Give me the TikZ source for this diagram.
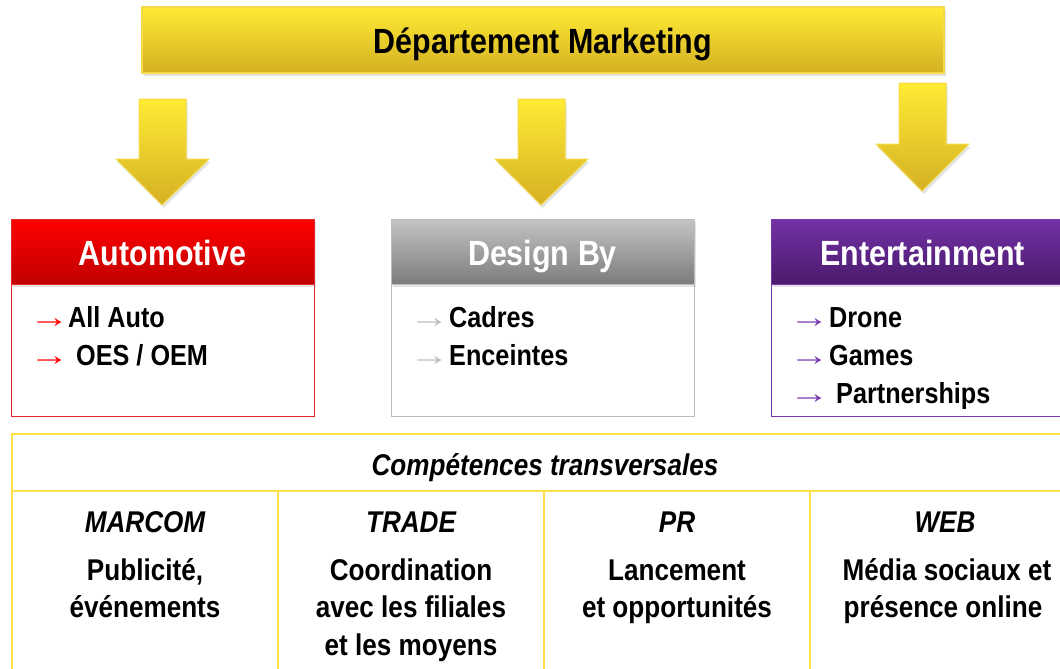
\documentclass[tikz,border=0pt]{standalone}
\usepackage{fontspec}
\setmainfont{Liberation Sans}[FakeStretch=0.87]
\newfontfamily\arrowfont{Liberation Serif}[FakeStretch=1.35]
\usetikzlibrary{shadows}
\definecolor{ytop}{HTML}{FFEB33}
\definecolor{ybot}{HTML}{D4B024}
\definecolor{yedge}{HTML}{F4DA48}
\definecolor{rtop}{HTML}{FF0000}
\definecolor{rbot}{HTML}{C00000}
\definecolor{redge}{HTML}{E8262E}
\definecolor{gtop}{HTML}{C4C4C4}
\definecolor{gbot}{HTML}{7C7C7C}
\definecolor{gedge}{HTML}{BDBDBD}
\definecolor{ptop}{HTML}{7432A6}
\definecolor{pbot}{HTML}{4A1A6C}
\definecolor{pedge}{HTML}{7A3AAE}
\definecolor{tline}{HTML}{FFE04A}
\tikzset{
  shad/.style={drop shadow={opacity=0.22,shadow xshift=1.5pt,shadow yshift=-3pt}},
  topbar/.style={draw=yedge,line width=1.2pt,top color=ytop,bottom color=ybot,shad,
    minimum width=802pt,minimum height=66pt,inner sep=0pt,text height=33pt,text depth=7pt,
    font=\fontsize{35}{40}\selectfont\bfseries},
  yarrow/.style={draw=yedge,line width=1pt,top color=ytop,bottom color=ybot,shad},
  hdr/.style={minimum width=303pt,minimum height=65pt,inner sep=0pt,line width=1pt,
    text height=34pt,text depth=7pt,
    text=white,font=\fontsize{35}{40}\selectfont\bfseries,shad},
  body/.style={minimum width=303pt,minimum height=132pt,inner sep=0pt,fill=white,line width=1pt},
  item/.style={anchor=base west,inner sep=0pt,font=\fontsize{29}{34}\selectfont\bfseries},
  tarrow/.style={anchor=base west,inner sep=0pt,font=\fontsize{30}{34}\arrowfont},
  ttxt/.style={anchor=base,inner sep=0pt,font=\fontsize{30}{36}\selectfont\bfseries},
  tital/.style={anchor=base,inner sep=0pt,font=\fontsize{30}{36}\selectfont\bfseries\itshape},
  tl/.style={draw=tline,line width=1.6pt},
}
\begin{document}
\begin{tikzpicture}[x=1pt,y=-1pt]
\useasboundingbox (0,0) rectangle (1060,669);

% top bar
\node[topbar] (dept) at (543,40) {Département Marketing};

% yellow block arrows
\path[yarrow] (139,99) -- (186,99) -- (186,159) -- (209,159) -- (162,205) -- (116,159) -- (139,159) -- cycle;
\path[yarrow] (518,99) -- (565,99) -- (565,159) -- (588,159) -- (541,205) -- (495,159) -- (518,159) -- cycle;
\path[yarrow] (899,83) -- (946,83) -- (946,144) -- (969,144) -- (922,191) -- (876,144) -- (899,144) -- cycle;

% bodies
\node[body,draw=redge] (autob) at (162.5,350) {};
\node[body,draw=gedge] (designb) at (542.5,350) {};
\node[body,draw=pedge] (entb) at (922.5,350) {};

% headers
\node[hdr,draw=redge,top color=rtop,bottom color=rbot] (auto) at (162.5,251.5) {Automotive};
\node[hdr,draw=gedge,top color=gtop,bottom color=gbot] (design) at (542.5,251.5) {Design By};
\node[hdr,draw=pedge,top color=ptop,bottom color=pbot] (ent) at (922.5,251.5) {Entertainment};

% items
\node[tarrow,text=red] (a1) at (29,327) {→};
\node[item] (a1t) at (68,327) {All Auto};
\node[tarrow,text=red] (a2) at (29,365) {→};
\node[item] (a2t) at (76,365) {OES / OEM};

\node[tarrow,text=gedge] (d1) at (409,327) {→};
\node[item] (d1t) at (449,327) {Cadres};
\node[tarrow,text=gedge] (d2) at (409,365) {→};
\node[item] (d2t) at (449,365) {Enceintes};

\node[tarrow,text=pedge] (e1) at (789,327) {→};
\node[item] (e1t) at (829,327) {Drone};
\node[tarrow,text=pedge] (e2) at (789,365) {→};
\node[item] (e2t) at (829,365) {Games};
\node[tarrow,text=pedge] (e3) at (789,403) {→};
\node[item] (e3t) at (836,403) {Partnerships};

% table
\draw[tl] (1080,434) -- (12,434) -- (12,680);
\draw[tl] (12,491) -- (1080,491);
\draw[tl] (278,491) -- (278,680);
\draw[tl] (544,491) -- (544,680);
\draw[tl] (810,491) -- (810,680);

\node[tital] (comp) at (545,475) {Compétences transversales};

\node[tital] (c1) at (145,532) {MARCOM};
\node[ttxt] (c1a) at (145,580) {Publicité,};
\node[ttxt] (c1b) at (145,617) {événements};

\node[tital] (c2) at (411,532) {TRADE};
\node[ttxt] (c2a) at (411,580) {Coordination};
\node[ttxt] (c2b) at (411,617) {avec les filiales};
\node[ttxt] (c2c) at (411,655) {et les moyens};

\node[tital] (c3) at (677,532) {PR};
\node[ttxt] (c3a) at (677,580) {Lancement};
\node[ttxt] (c3b) at (677,617) {et opportunités};

\node[tital] (c4) at (945,532) {WEB};
\node[ttxt] (c4a) at (947,580) {Média sociaux et};
\node[ttxt] (c4b) at (943,617) {présence online};
\end{tikzpicture}
\end{document}
